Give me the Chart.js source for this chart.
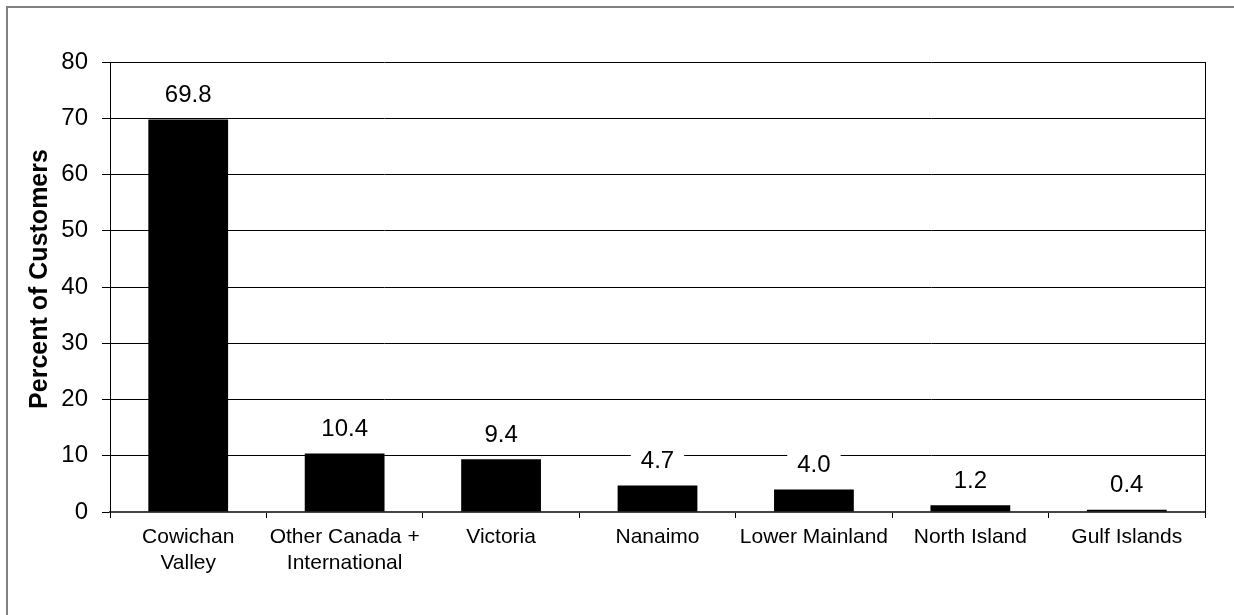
<!DOCTYPE html>
<html lang="en">
<head>
    <meta charset="UTF-8">
    <title>Percent of Customers by Region</title>
    <style>
        html, body { margin: 0; padding: 0; background: #fff; }
        .chart-box { position: relative; width: 1234px; height: 615px; }
    </style>
</head>
<body>
    <div class="chart-box">
        <canvas id="chart" width="1234" height="615"></canvas>
    </div>

    <script src="https://cdn.jsdelivr.net/npm/chart.js"></script>
    <script>
        // chart data
        const regions = [
            ['Cowichan', 'Valley'],
            ['Other Canada +', 'International'],
            'Victoria',
            'Nanaimo',
            'Lower Mainland',
            'North Island',
            'Gulf Islands'
        ];
        const percents = [69.8, 10.4, 9.4, 4.7, 4.0, 1.2, 0.4];
        const yTicks = [0, 10, 20, 30, 40, 50, 60, 70, 80];
        const yTitle = 'Percent of Customers';

        const FONT = 'Arial, "Liberation Sans", sans-serif';

        // grey frame around the whole figure
        const framePlugin = {
            id: 'frame',
            beforeDraw(chart) {
                const ctx = chart.ctx;
                ctx.save();
                ctx.strokeStyle = '#808080';
                ctx.lineWidth = 2;
                ctx.strokeRect(7, 7, chart.width + 20, chart.height + 20);
                ctx.restore();
            }
        };

        // right border of the plot area + the rotated y title
        const borderPlugin = {
            id: 'plotBorder',
            afterDraw(chart) {
                const a = chart.chartArea;
                const ctx = chart.ctx;
                ctx.save();
                ctx.strokeStyle = '#000';
                ctx.lineWidth = 1;
                ctx.beginPath();
                ctx.moveTo(a.right + 0.5, a.top);
                ctx.lineTo(a.right + 0.5, a.bottom + 6);
                ctx.stroke();

                ctx.translate(40, (a.top + a.bottom) / 2 - 8);
                ctx.rotate(-Math.PI / 2);
                ctx.font = 'bold 25px ' + FONT;
                ctx.fillStyle = '#000';
                ctx.textAlign = 'center';
                ctx.textBaseline = 'middle';
                ctx.fillText(yTitle, 0, 0);
                ctx.restore();
            }
        };

        // value labels with a white box, above each bar
        const valueLabels = {
            id: 'valueLabels',
            afterDatasetsDraw(chart) {
                const ctx = chart.ctx;
                const meta = chart.getDatasetMeta(0);
                ctx.save();
                ctx.font = '24px ' + FONT;
                ctx.textAlign = 'center';
                ctx.textBaseline = 'middle';
                meta.data.forEach((bar, i) => {
                    const txt = percents[i].toFixed(1);
                    const w = ctx.measureText(txt).width;
                    const cy = bar.y - 25;
                    ctx.fillStyle = '#fff';
                    ctx.fillRect(bar.x - w / 2 - 10, cy - 12, w + 20, 24);
                    ctx.fillStyle = '#000';
                    ctx.fillText(txt, bar.x, cy + 1);
                });
                ctx.restore();
            }
        };

        new Chart(document.getElementById('chart'), {
            type: 'bar',
            data: {
                labels: regions,
                datasets: [{
                    data: percents,
                    backgroundColor: '#000',
                    borderWidth: 0,
                    categoryPercentage: 1,
                    barPercentage: 0.51
                }]
            },
            options: {
                responsive: false,
                animation: false,
                layout: { padding: { top: 62, right: 29, left: 0, bottom: 0 } },
                plugins: {
                    legend: { display: false },
                    tooltip: { enabled: false }
                },
                scales: {
                    x: {
                        offset: true,
                        grid: {
                            offset: true,
                            drawOnChartArea: false,
                            color: '#000',
                            tickLength: 6
                        },
                        border: { color: '#444', width: 2 },
                        ticks: {
                            color: '#000',
                            font: { family: FONT, size: 21, lineHeight: 1.2 },
                            padding: 7,
                            maxRotation: 0,
                            autoSkip: false
                        },
                        afterFit(scale) { scale.height = 103; }
                    },
                    y: {
                        min: 0,
                        max: 80,
                        afterBuildTicks(scale) {
                            scale.ticks = yTicks.map(v => ({ value: v }));
                        },
                        grid: {
                            color: '#000',
                            lineWidth: 1,
                            tickLength: 8
                        },
                        border: { color: '#000', width: 1 },
                        ticks: {
                            color: '#000',
                            font: { family: FONT, size: 24 },
                            padding: 14
                        },
                        afterFit(scale) { scale.width = 110; }
                    }
                }
            },
            plugins: [framePlugin, borderPlugin, valueLabels]
        });
    </script>
</body>
</html>
